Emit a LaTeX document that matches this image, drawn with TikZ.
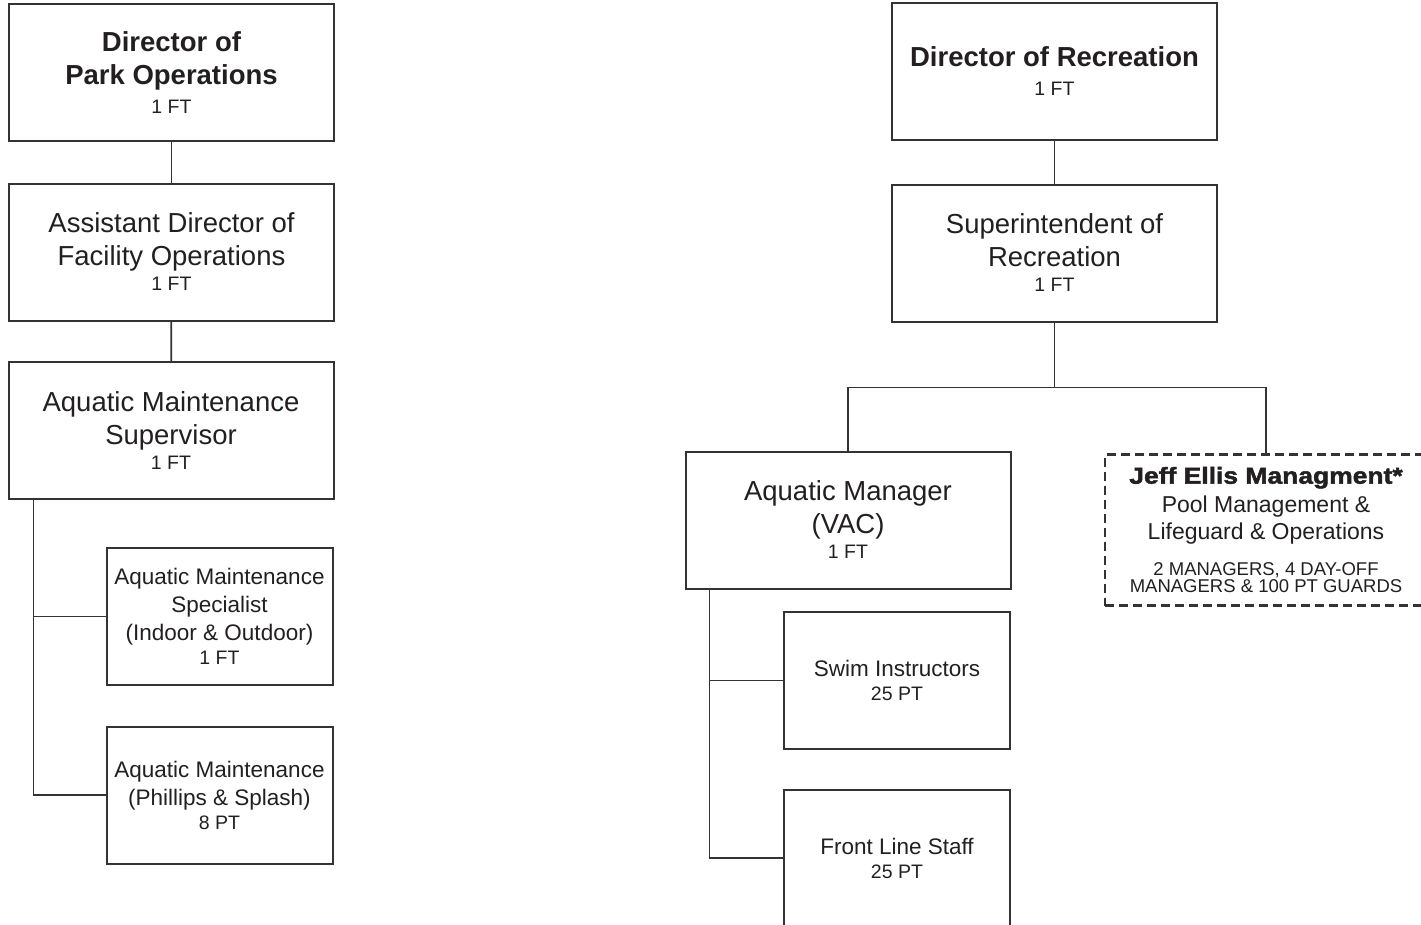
\documentclass[tikz,border=0pt]{standalone}
\usepackage{fontspec}
\setmainfont{Liberation Sans}
\newfontfamily\heavyfont[FakeBold=2,FakeStretch=1.15]{Liberation Sans Bold}
\usetikzlibrary{positioning,calc}
\definecolor{ink}{HTML}{231F20}
\definecolor{rule}{HTML}{333333}
\tikzset{
    post/.style = {
        draw=rule, line width=2pt, rectangle, align=center,
        outer sep=0,
        inner sep=0,
        minimum width=325pt,
        minimum height=137pt,
        text=ink,
        font=\fontsize{27.5}{33}\selectfont
    },
    staff/.style = {
        post,
        minimum width=226pt,
        font=\fontsize{22.5}{28}\selectfont
    },
    contract/.style = {
        post, dash pattern=on 9pt off 5pt, line width=2.5pt,
        minimum width=322pt,
        minimum height=151pt,
        font=\fontsize{23}{27}\selectfont
    },
    link/.style = {draw=rule, line width=1.7pt}
}
\newcommand{\hc}[1]{{\fontsize{19.5}{25}\selectfont #1}}
\newcommand{\crew}[1]{{\fontsize{18.5}{17}\selectfont #1}}

\begin{document}
\begin{tikzpicture}[x=1pt,y=-1pt]
\useasboundingbox (0,0) rectangle (1421,924);

% 1. park operations side
\node[post]  (DirPark) at (171.5,72.5) {\textbf{Director of}\\\textbf{Park Operations}\\[-4pt]\hc{1 FT}};
\node[post]  (AsstDir) at (171.5,252)  {Assistant Director of\\Facility Operations\\[-8pt]\hc{1 FT}};
\node[post]  (AqSup)   at (171,430.5)  {Aquatic Maintenance\\Supervisor\\[-8pt]\hc{1 FT}};
\node[staff] (Spec)    at (219.5,616.5) {Aquatic Maintenance\\Specialist\\(Indoor \& Outdoor)\\[-4pt]\hc{1 FT}};
\node[staff] (Maint)   at (219.5,795)  {Aquatic Maintenance\\(Phillips \& Splash)\\[-4pt]\hc{8 PT}};

% 2. recreation side
\node[post]  (DirRec)  at (1054.5,71.5) {\textbf{Director of Recreation}\\[-4pt]\hc{1 FT}};
\node[post]  (Super)   at (1054.5,253)  {Superintendent of\\Recreation\\[-8pt]\hc{1 FT}};
\node[post]  (AqMgr)   at (848,520)     {Aquatic Manager\\(VAC)\\[-8pt]\hc{1 FT}};
\node[contract] (Jeff) at (1266,530)    {{\heavyfont Jeff Ellis Managment*}\\[2pt]Pool Management \&\\Lifeguard \& Operations\\[8.5pt]\crew{2 MANAGERS, 4 DAY-OFF}\\[-9.3pt]\crew{MANAGERS \& 100 PT GUARDS}};
\node[staff] (Swim)    at (897,680.5)   {Swim Instructors\\[-4pt]\hc{25 PT}};
\node[staff] (Front)   at (897,858)     {Front Line Staff\\[-4pt]\hc{25 PT}};

% 3. lines
\draw[link] (DirPark) -- (AsstDir);
\draw[link] (AsstDir) -- (AqSup);
\coordinate (t1) at ([xshift=25pt]AqSup.south west);
\draw[link] (t1) |- (Spec.west);
\draw[link] (t1) |- (Maint.west);

\draw[link] (DirRec) -- (Super);
\coordinate (n1) at ([yshift=-66pt]Super.south);
\draw[link] (Super) -- (n1) -| (AqMgr);
\draw[link] (n1) -| (Jeff);
\coordinate (t2) at ([xshift=24pt]AqMgr.south west);
\draw[link] (t2) |- (Swim.west);
\draw[link] (t2) |- (Front.west);

\end{tikzpicture}
\end{document}
